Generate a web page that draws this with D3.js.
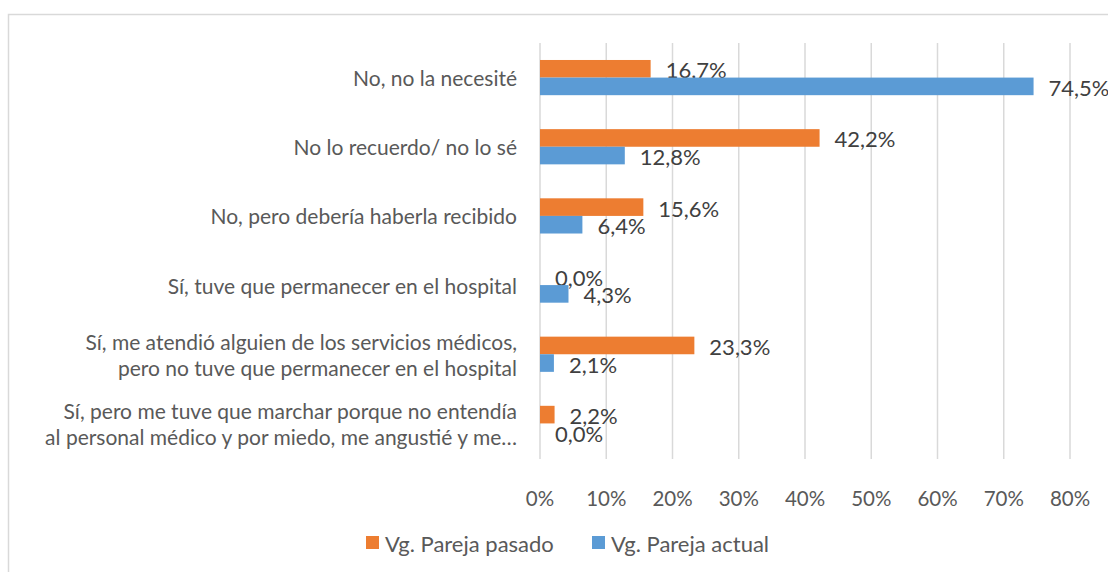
<!DOCTYPE html>
<html>
<head>
<meta charset="utf-8">
<script src="https://cdn.jsdelivr.net/npm/d3@7.9.0/dist/d3.min.js"></script>
<style>
  body { margin: 0; background: #fff; }
  svg { display: block; font-family: Lato, "Open Sans", sans-serif; }
</style>
</head>
<body>
<svg id="chart" width="1108" height="572"></svg>
<script>
// categories, top to bottom
const categories = [
  ["No, no la necesité"],
  ["No lo recuerdo/ no lo sé"],
  ["No, pero debería haberla recibido"],
  ["Sí, tuve que permanecer en el hospital"],
  ["Sí, me atendió alguien de los servicios médicos,", "pero no tuve que permanecer en el hospital"],
  ["Sí, pero me tuve que marchar porque no entendía", "al personal médico y por miedo, me angustié y me…"]
];
const seriesNames = ["Vg. Pareja pasado", "Vg. Pareja actual"];
const pasado = [16.7, 42.2, 15.6, 0.0, 23.3, 2.2];
const actual = [74.5, 12.8, 6.4, 4.3, 2.1, 0.0];
const xTicks = [0, 10, 20, 30, 40, 50, 60, 70, 80];
const colors = ["#ED7D31", "#5B9BD5"];

const svg = d3.select('#chart');
const textColor = "#595959";

// outer chart border
svg.append('rect')
  .attr('x', 8.5).attr('y', 14.5)
  .attr('width', 1120).attr('height', 600)
  .attr('fill', 'none')
  .attr('stroke', '#d9d9d9')
  .attr('stroke-width', 1.5);

let x = d3.scaleLinear().domain([0, 80]).range([540, 1070]);
let y = d3.scaleBand().domain(d3.range(categories.length)).range([43, 458]);
let barH = 17.6;

// gridlines
svg.append('g').selectAll('line')
  .data(xTicks)
  .join('line')
  .attr('x1', d => x(d)).attr('x2', d => x(d))
  .attr('y1', 43).attr('y2', 459)
  .attr('stroke', '#d9d9d9')
  .attr('stroke-width', 1.5);

// tick labels
svg.append('g').selectAll('text')
  .data(xTicks)
  .join('text')
  .attr('x', d => x(d))
  .attr('y', 498)
  .attr('text-anchor', 'middle')
  .attr('dominant-baseline', 'central')
  .attr('fill', textColor)
  .attr('font-size', 20.5)
  .text(d => d + '%');

// category labels
categories.forEach((lines, i) => {
  let cy = y(i) + y.bandwidth() / 2;
  let t = svg.append('text')
    .attr('text-anchor', 'end')
    .attr('fill', textColor)
    .attr('font-size', 21);
  lines.forEach((line, j) => {
    let off = (j - (lines.length - 1) / 2) * 26;
    t.append('tspan')
      .attr('x', 517)
      .attr('y', cy + off)
      .attr('dominant-baseline', 'central')
      .text(line);
  });
});

// bars + data labels
let fmt = v => v.toFixed(1).replace('.', ',') + '%';
[pasado, actual].forEach((vals, s) => {
  let g = svg.append('g');
  vals.forEach((v, i) => {
    let cy = y(i) + y.bandwidth() / 2;
    let top = cy - barH + s * barH;
    g.append('rect')
      .attr('x', x(0))
      .attr('y', top)
      .attr('width', x(v) - x(0))
      .attr('height', barH)
      .attr('fill', colors[s]);
    g.append('text')
      .attr('x', x(v) + 15)
      .attr('y', top + barH / 2 + 1)
      .attr('dominant-baseline', 'central')
      .attr('fill', '#404040')
      .attr('font-size', 22)
      .text(fmt(v));
  });
});

// legend
let legendX = [366, 592];
seriesNames.forEach((name, s) => {
  svg.append('rect')
    .attr('x', legendX[s]).attr('y', 536)
    .attr('width', 13).attr('height', 13)
    .attr('fill', colors[s]);
  svg.append('text')
    .attr('x', legendX[s] + 19)
    .attr('y', 543)
    .attr('dominant-baseline', 'central')
    .attr('fill', textColor)
    .attr('font-size', 22)
    .text(name);
});
</script>
</body>
</html>
